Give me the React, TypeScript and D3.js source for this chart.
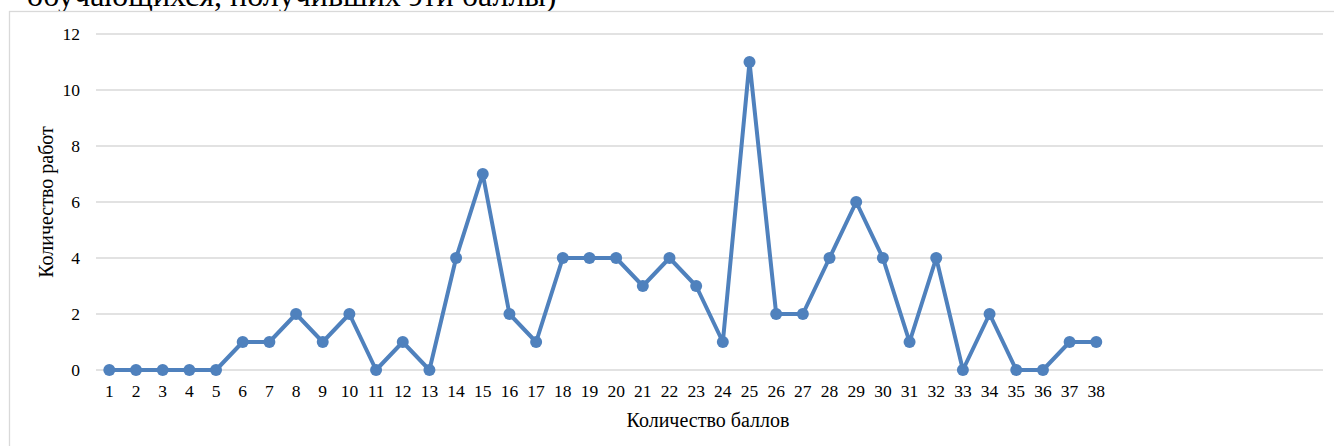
import React from "react";
import * as d3 from "d3";

const scoreLabels: string[] = [
  "1","2","3","4","5","6","7","8","9","10","11","12","13","14","15","16","17","18","19",
  "20","21","22","23","24","25","26","27","28","29","30","31","32","33","34","35","36","37","38",
];
const emptySlots: string[] = ["", "", "", "", "", "", "", ""];
const workCounts: number[] = [
  0, 0, 0, 0, 0, 1, 1, 2, 1, 2, 0, 1, 0, 4, 7, 2, 1, 4, 4, 4, 3, 4, 3, 1, 11, 2, 2, 4, 6, 4, 1, 4, 0, 2, 0, 0, 1, 1,
];
const yTicks: number[] = [0, 2, 4, 6, 8, 10, 12];

const W = 1334;
const H = 446;
const FONT = "'Liberation Serif', 'Times New Roman', serif";
const BLUE = "#4f81bd";
const GRID = "#d9d9d9";

export default function App() {
  const categories = [...scoreLabels, ...emptySlots];
  const keys = categories.map((_, i) => String(i));
  const x = d3.scaleBand<string>().domain(keys).range([96, 1323]).padding(0);
  const cx = (i: number) => (x(String(i)) as number) + x.bandwidth() / 2;
  const y = d3.scaleLinear().domain([0, 12]).range([370, 34]);
  const line = d3
    .line<number>()
    .x((_, i) => cx(i))
    .y((d) => y(d));

  return (
    <div style={{ position: "fixed", left: 0, top: 0, width: W, height: H, background: "#fff" }}>
      <svg width={W} height={H} style={{ display: "block" }}>
        <rect x={0} y={0} width={W} height={H} fill="#fff" />
        <text x={27} y={6} fontFamily={FONT} fontSize={32} fill="#000">
          обучающихся, получивших эти баллы)
        </text>
        <rect x={9.5} y={11.5} width={W + 10} height={H + 10} fill="#fff" stroke={GRID} strokeWidth={1.3} />
        {yTicks.map((t) => (
          <g key={t}>
            <line x1={96} x2={1323} y1={y(t)} y2={y(t)} stroke={GRID} strokeWidth={1.3} />
            <text x={80} y={y(t)} dy="0.35em" textAnchor="end" fontFamily={FONT} fontSize={17.5} fill="#000">
              {t}
            </text>
          </g>
        ))}
        {categories.map((c, i) =>
          c ? (
            <text key={i} x={cx(i)} y={397} textAnchor="middle" fontFamily={FONT} fontSize={17.5} fill="#000">
              {c}
            </text>
          ) : null
        )}
        <path d={line(workCounts) || ""} fill="none" stroke={BLUE} strokeWidth={4} strokeLinejoin="round" />
        {workCounts.map((v, i) => (
          <circle key={i} cx={cx(i)} cy={y(v)} r={6} fill={BLUE} />
        ))}
        <text x={708} y={427} textAnchor="middle" fontFamily={FONT} fontSize={20} fill="#000">
          Количество баллов
        </text>
        <text
          transform={`translate(53, ${(y(0) + y(12)) / 2}) rotate(-90)`}
          textAnchor="middle"
          fontFamily={FONT}
          fontSize={20}
          fill="#000"
        >
          Количество работ
        </text>
      </svg>
    </div>
  );
}
